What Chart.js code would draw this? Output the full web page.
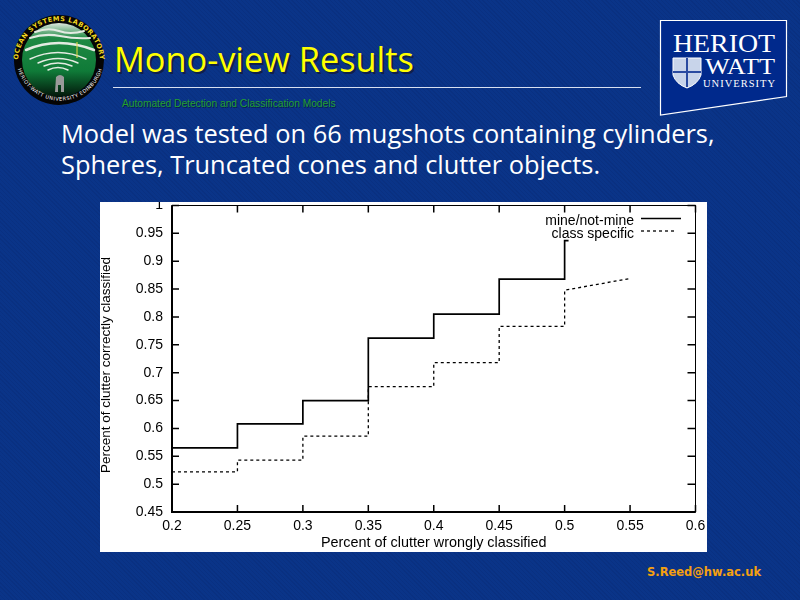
<!DOCTYPE html>
<html>
<head>
<meta charset="utf-8">
<title>Mono-view Results</title>
<script src="https://cdn.jsdelivr.net/npm/chart.js@4"></script>
<style>
    html, body { margin: 0; padding: 0; }
    body {
        width: 800px; height: 600px; position: relative; overflow: hidden;
        background-color: #0a3488;
        background-image: repeating-linear-gradient(45deg, rgba(0,0,40,0.07) 0 1px, transparent 1px 3px);
        font-family: "DejaVu Sans", sans-serif;
    }
    .abs { position: absolute; white-space: nowrap; }
    #title { left: 114px; top: 38px; font: 34.3px/42px "Open Sans", "DejaVu Sans", sans-serif; color: #ffff00; text-shadow: 2px 2px 0 #10204a; }
    #rule { left: 113px; top: 87px; width: 528px; height: 1px; background: #d8e0f0; }
    #subtitle { left: 122px; top: 97px; font: 10.2px/14px "Liberation Sans", sans-serif; color: #22a030; text-shadow: 1px 1px 0 #0a1c50; }
    #body { left: 61px; top: 118px; font: 25.4px/31px "Open Sans", sans-serif; color: #fff; }
    #email { left: 647px; top: 564px; font: bold 11.5px/16px "DejaVu Sans", sans-serif; color: #f5a010; }
    #panel { left: 100px; top: 202px; width: 607px; height: 350px; background: #fff; }
</style>
</head>
<body>
<svg class="abs" style="left:0;top:0" width="800" height="130" viewBox="0 0 800 130">
    <defs>
        <linearGradient id="globe" x1="0" y1="0" x2="0" y2="1">
            <stop offset="0" stop-color="#dfe8df"/>
            <stop offset="0.2" stop-color="#1f8a44"/>
            <stop offset="0.65" stop-color="#0f7a38"/>
            <stop offset="1" stop-color="#03150a"/>
        </linearGradient>
        <path id="arcTop" d="M 18 62 A 41 41 0 1 1 100 62"/>
        <path id="arcBottom" d="M 17 66 A 44 44 0 0 0 103 66"/>
    </defs>
    <circle cx="59" cy="60" r="45" fill="#050505"/>
    <circle cx="59" cy="60" r="37" fill="url(#globe)"/>
    <g fill="none" stroke="#e4ebe2" stroke-linecap="round">
        <path d="M 35 32 Q 48 27 59 31 T 84 31" stroke-width="2"/>
        <path d="M 30 38 Q 45 33 60 36 T 90 38" stroke-width="2"/>
        <path d="M 26 50 Q 58 36 94 50" stroke-width="2.5"/>
        <path d="M 30 59 Q 58 46 86 59" stroke-width="1.5"/>
        <path d="M 38 63 Q 58 54 78 63" stroke-width="1.5"/>
        <path d="M 44 66 Q 58 60 72 66" stroke-width="1.5"/>
        <path d="M 48 70 Q 58 65 68 70" stroke-width="1.5"/>
    </g>
    <path d="M 77 42 L 77 58" stroke="#e8d840" stroke-width="1"/>
    <path d="M 56 77 Q 60 73 64 77 L 64 92 L 61 92 L 61 85 L 58 85 L 58 92 L 55 92 Z" fill="#9a9a9a"/>
    <text font-family="'DejaVu Sans', sans-serif" font-size="6.6" font-weight="bold" fill="#f2d820"><textPath href="#arcTop" startOffset="50%" text-anchor="middle" textLength="124" lengthAdjust="spacing">OCEAN SYSTEMS LABORATORY</textPath></text>
    <text font-family="'DejaVu Sans', sans-serif" font-size="5" fill="#ffffff" letter-spacing="0.5"><textPath href="#arcBottom" startOffset="50%" text-anchor="middle">HERIOT-WATT UNIVERSITY EDINBURGH</textPath></text>

    <polygon points="660.5,20.5 786.5,20.5 786.5,96.5 660.5,115" fill="#00298c" stroke="#ffffff" stroke-width="1.2"/>
    <text x="673" y="52" font-family="'Liberation Serif', serif" font-size="25" fill="#fff" textLength="102" lengthAdjust="spacingAndGlyphs">HERIOT</text>
    <text x="705" y="74" font-family="'Liberation Serif', serif" font-size="24" fill="#fff" textLength="70" lengthAdjust="spacingAndGlyphs">WATT</text>
    <text x="703" y="87" font-family="'Liberation Serif', serif" font-size="10.5" fill="#fff" textLength="72" lengthAdjust="spacing">UNIVERSITY</text>
    <path d="M 673 58 L 701 58 L 701 75 Q 698 84 687 88 Q 676 84 673 75 Z" fill="#c8d4ea" stroke="#fff" stroke-width="1"/>
    <path d="M 687 58 L 687 87 M 673 72 L 701 72" stroke="#2a4aa0" stroke-width="2"/>
</svg>

<div class="abs" id="title">Mono-view Results</div>
<div class="abs" id="rule"></div>
<div class="abs" id="subtitle">Automated Detection and Classification Models</div>
<div class="abs" id="body">Model was tested on 66 mugshots containing cylinders,<br>Spheres, Truncated cones and clutter objects.</div>
<div class="abs" id="panel"><canvas id="rocChart" width="607" height="350"></canvas></div>
<div class="abs" id="email">S.Reed@hw.ac.uk</div>

<script>
// Values, corners of the steps included
const mineX = [0.2, 0.25, 0.25, 0.3, 0.3, 0.35, 0.35, 0.4, 0.4, 0.45, 0.45, 0.5, 0.5, 0.503];
const mineY = [0.565, 0.565, 0.608, 0.608, 0.65, 0.65, 0.762, 0.762, 0.805, 0.805, 0.868, 0.868, 0.937, 0.937];
const classX = [0.2, 0.25, 0.25, 0.3, 0.3, 0.35, 0.35, 0.4, 0.4, 0.45, 0.45, 0.5, 0.5, 0.55];
const classY = [0.522, 0.522, 0.543, 0.543, 0.586, 0.586, 0.675, 0.675, 0.718, 0.718, 0.783, 0.783, 0.848, 0.869];
const xTicks = [0.2, 0.25, 0.3, 0.35, 0.4, 0.45, 0.5, 0.55, 0.6];
const yTicks = [0.45, 0.5, 0.55, 0.6, 0.65, 0.7, 0.75, 0.8, 0.85, 0.9, 0.95, 1];
const seriesNames = ['mine/not-mine', 'class specific'];
const xTitle = 'Percent of clutter wrongly classified';
const yTitle = 'Percent of clutter correctly classified';

const chartFont = { family: '"Liberation Sans", sans-serif', size: 14 };

function toPoints(xs, ys) {
    return xs.map((x, i) => ({ x: x, y: ys[i] }));
}

// gnuplot style frame: ticks point inwards on all four sides
const framePlugin = {
    id: 'frame',
    afterDatasetsDraw(chart) {
        const c = chart.ctx;
        const a = chart.chartArea;
        const xs = chart.scales.x;
        const ys = chart.scales.y;
        c.save();
        c.strokeStyle = '#000';
        c.lineWidth = 1;
        c.strokeRect(a.left, a.top, a.right - a.left, a.bottom - a.top);
        // left and bottom edges are heavier in the picture
        c.lineWidth = 2;
        c.beginPath();
        c.moveTo(a.left, a.top);
        c.lineTo(a.left, a.bottom);
        c.lineTo(a.right, a.bottom);
        c.stroke();
        c.lineWidth = 1.5;
        c.beginPath();
        xTicks.forEach(v => {
            const p = xs.getPixelForValue(v);
            c.moveTo(p, a.bottom); c.lineTo(p, a.bottom - 7);
            c.moveTo(p, a.top); c.lineTo(p, a.top + 7);
        });
        yTicks.forEach(v => {
            const p = ys.getPixelForValue(v);
            c.moveTo(a.left, p); c.lineTo(a.left + 7, p);
            c.moveTo(a.right, p); c.lineTo(a.right - 8, p);
        });
        c.stroke();
        c.restore();
    }
};

// Key sits inside the plot, text right aligned with the line sample after it.
// The y title is drawn here too because it sits a little below the plot centre.
const keyPlugin = {
    id: 'key',
    afterDraw(chart) {
        const c = chart.ctx;
        const rows = [16.5, 29];
        c.save();
        c.font = '14px "Liberation Sans", sans-serif';
        c.textAlign = 'right';
        c.textBaseline = 'middle';
        c.fillStyle = '#000';
        chart.data.datasets.forEach((ds, i) => {
            c.fillText(ds.label, 534, rows[i] + 3);
            c.beginPath();
            c.strokeStyle = '#000';
            c.lineWidth = ds.borderWidth;
            c.setLineDash(ds.borderDash || []);
            c.moveTo(541, rows[i]);
            c.lineTo(i === 0 ? 581 : 577, rows[i]);
            c.stroke();
        });
        c.setLineDash([]);
        c.translate(6, 163);
        c.rotate(-Math.PI / 2);
        c.font = '13.5px "Liberation Sans", sans-serif';
        c.textAlign = 'center';
        c.fillText(yTitle, 0, 0);
        c.restore();
    }
};

new Chart(document.getElementById('rocChart').getContext('2d'), {
    type: 'scatter',
    data: {
        datasets: [{
            label: seriesNames[0],
            data: toPoints(mineX, mineY),
            showLine: true,
            borderColor: '#000',
            borderWidth: 1.7,
            pointRadius: 0,
            fill: false
        }, {
            label: seriesNames[1],
            data: toPoints(classX, classY),
            showLine: true,
            borderColor: '#000',
            borderWidth: 1.3,
            borderDash: [3, 3],
            pointRadius: 0,
            fill: false
        }]
    },
    options: {
        responsive: false,
        animation: false,
        layout: { padding: { top: 3.5, right: 11.5, left: 0, bottom: 0 } },
        plugins: { legend: { display: false }, tooltip: { enabled: false } },
        scales: {
            x: {
                type: 'linear',
                min: 0.2,
                max: 0.6,
                afterBuildTicks(scale) { scale.ticks = xTicks.map(v => ({ value: v })); },
                afterFit(scale) {
                    scale.height = 40;
                    scale.paddingLeft = 0;
                    scale.paddingRight = 0;
                },
                grid: { display: false, drawTicks: false, tickLength: 0 },
                border: { display: false },
                ticks: {
                    color: '#000', font: chartFont, padding: 6, maxRotation: 0, autoSkip: false,
                    callback: v => String(Number(v.toFixed(2)))
                },
                title: {
                    display: true, text: xTitle, color: '#000',
                    font: { family: chartFont.family, size: 14.4 }, padding: { top: 3, bottom: 0 }
                }
            },
            y: {
                type: 'linear',
                min: 0.45,
                max: 1,
                afterBuildTicks(scale) { scale.ticks = yTicks.map(v => ({ value: v })); },
                afterFit(scale) {
                    scale.width = 72;
                    scale.paddingTop = 0;
                    scale.paddingBottom = 0;
                },
                grid: { display: false, drawTicks: false, tickLength: 0 },
                border: { display: false },
                ticks: {
                    color: '#000', font: chartFont, padding: 9, autoSkip: false,
                    callback: v => String(Number(v.toFixed(2)))
                }
            }
        }
    },
    plugins: [framePlugin, keyPlugin]
});
</script>
</body>
</html>
